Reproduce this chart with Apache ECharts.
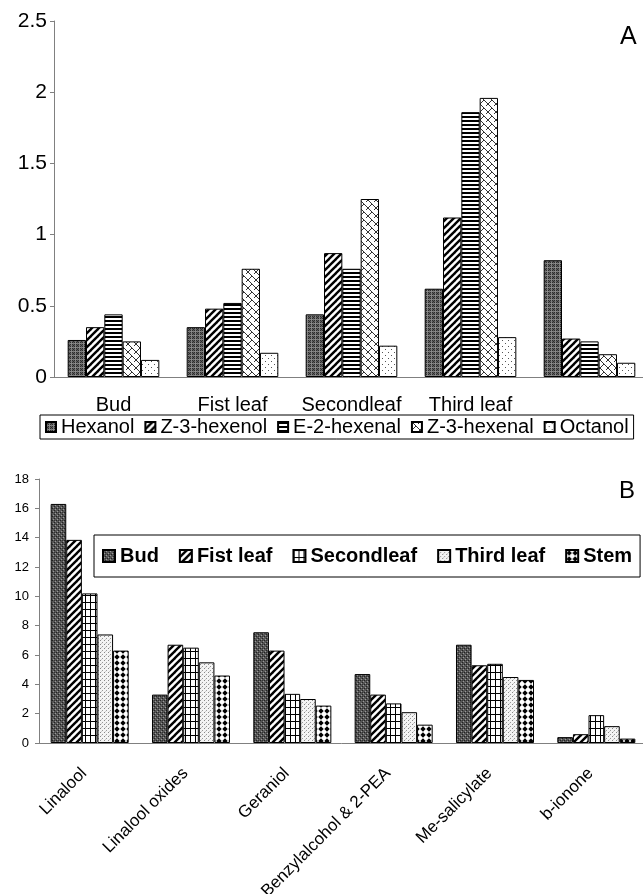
<!DOCTYPE html>
<html>
<head>
<meta charset="utf-8">
<script src="https://cdn.jsdelivr.net/npm/echarts@6/dist/echarts.min.js"></script>
<style>
html,body{margin:0;padding:0;background:#fff;}
#chart{width:643px;height:894px;}
</style>
</head>
<body>
<div id="chart"></div>
<script>
// ---------- Panel A data ----------
const catsA = ['Bud', 'Fist leaf', 'Secondleaf', 'Third leaf', ''];
const hexanol   = [0.26, 0.35, 0.44, 0.62, 0.82];
const z3hexenol = [0.35, 0.48, 0.87, 1.12, 0.27];
const e2hexenal = [0.44, 0.52, 0.76, 1.86, 0.25];
const z3hexenal = [0.25, 0.76, 1.25, 1.96, 0.16];
const octanol   = [0.12, 0.17, 0.22, 0.28, 0.10];
const seriesNamesA = ['Hexanol', 'Z-3-hexenol', 'E-2-hexenal', 'Z-3-hexenal', 'Octanol'];
const yMinA = 0, yMaxA = 2.5, yStepA = 0.5;

// ---------- Panel B data ----------
const catsB = ['Linalool', 'Linalool oxides', 'Geraniol', 'Benzylalcohol & 2-PEA', 'Me-salicylate', 'b-ionone'];
const bud        = [16.3, 3.3, 7.55, 4.7, 6.7, 0.4];
const fistLeaf   = [13.85, 6.7, 6.3, 3.3, 5.3, 0.6];
const secondleaf = [10.2, 6.5, 3.35, 2.7, 5.4, 1.9];
const thirdLeaf  = [7.4, 5.5, 3.0, 2.1, 4.5, 1.15];
const stem       = [6.3, 4.6, 2.55, 1.25, 4.3, 0.3];
const seriesNamesB = ['Bud', 'Fist leaf', 'Secondleaf', 'Third leaf', 'Stem'];
const yMinB = 0, yMaxB = 18, yStepB = 2;

const panelLabels = ['A', 'B'];

// ---------- patterns ----------
function pat(w, h, draw) {
  const c = document.createElement('canvas');
  c.width = w; c.height = h;
  const ctx = c.getContext('2d');
  draw(ctx, w, h);
  return { image: c, repeat: 'repeat' };
}
function px(ctx, x, y, col) { ctx.fillStyle = col; ctx.fillRect(x, y, 1, 1); }

const patPlaid = pat(4, 4, (ctx) => {
  ctx.fillStyle = '#5e5e5e'; ctx.fillRect(0, 0, 4, 4);
  for (let y = 0; y < 4; y++) for (let x = 0; x < 4; x++) if ((x + y) % 2 === 0) px(ctx, x, y, '#2c2c2c');
  ctx.fillStyle = 'rgba(150,150,150,0.7)'; ctx.fillRect(0, 3, 4, 1); ctx.fillRect(3, 0, 1, 4);
});
const patDiag = pat(7, 7, (ctx, w, h) => {
  ctx.fillStyle = '#fff'; ctx.fillRect(0, 0, w, h);
  ctx.strokeStyle = '#000'; ctx.lineWidth = 2.4;
  for (let k = -1; k <= 1; k++) {
    ctx.beginPath(); ctx.moveTo(k * w - 1, h + 1); ctx.lineTo(k * w + w + 1, -1); ctx.stroke();
  }
});
const patHoriz = pat(1, 4, (ctx) => {
  ctx.fillStyle = '#fff'; ctx.fillRect(0, 0, 1, 4);
  ctx.fillStyle = '#000'; ctx.fillRect(0, 0, 1, 2);
});
const patWeave = pat(8, 8, (ctx) => {
  ctx.fillStyle = '#fff'; ctx.fillRect(0, 0, 8, 8);
  ctx.strokeStyle = '#333'; ctx.lineWidth = 1;
  ctx.beginPath(); ctx.moveTo(0, 0); ctx.lineTo(8, 8); ctx.stroke();
  ctx.beginPath(); ctx.moveTo(0, 8); ctx.lineTo(4, 4); ctx.stroke();
  ctx.beginPath(); ctx.moveTo(8, 0); ctx.lineTo(6, 2); ctx.stroke();
});
const patDots = pat(6, 6, (ctx) => {
  ctx.fillStyle = '#fff'; ctx.fillRect(0, 0, 6, 6);
  px(ctx, 1, 1, '#555'); px(ctx, 4, 4, '#555');
});
const patStipple = pat(4, 4, (ctx) => {
  ctx.fillStyle = '#555'; ctx.fillRect(0, 0, 4, 4);
  px(ctx, 0, 0, '#222'); px(ctx, 2, 2, '#222'); px(ctx, 1, 3, '#999'); px(ctx, 3, 1, '#999'); px(ctx, 2, 0, '#333');
});
const patGrid = pat(5, 7, (ctx) => {
  ctx.fillStyle = '#fff'; ctx.fillRect(0, 0, 5, 7);
  ctx.fillStyle = '#000'; ctx.fillRect(0, 0, 5, 1); ctx.fillRect(0, 0, 1, 7);
});
const patLight = pat(4, 4, (ctx) => {
  ctx.fillStyle = '#f4f4f4'; ctx.fillRect(0, 0, 4, 4);
  px(ctx, 0, 0, '#888'); px(ctx, 2, 2, '#999'); px(ctx, 1, 3, '#ccc');
});
const patDiamond = pat(6, 6, (ctx) => {
  ctx.fillStyle = '#fff'; ctx.fillRect(0, 0, 6, 6);
  ctx.fillStyle = '#000';
  ctx.beginPath(); ctx.moveTo(3, 0.3); ctx.lineTo(5.7, 3); ctx.lineTo(3, 5.7); ctx.lineTo(0.3, 3); ctx.closePath(); ctx.fill();
});

const FONT = "'Liberation Sans', Arial, sans-serif";
const AXC = '#808080';

const patternsA = [patPlaid, patDiag, patHoriz, patWeave, patDots];
const patternsB = [patStipple, patDiag, patGrid, patLight, patDiamond];
const dataA = [hexanol, z3hexenol, e2hexenal, z3hexenal, octanol];
const dataB = [bud, fistLeaf, secondleaf, thirdLeaf, stem];

const series = [];
seriesNamesA.forEach((n, i) => series.push({
  name: n, type: 'bar', xAxisIndex: 0, yAxisIndex: 0, data: dataA[i],
  barGap: '0%', barCategoryGap: '23%',
  itemStyle: { color: patternsA[i], borderColor: '#000', borderWidth: 1 },
  emphasis: { disabled: true }
}));
seriesNamesB.forEach((n, i) => series.push({
  name: n, type: 'bar', xAxisIndex: 1, yAxisIndex: 1, data: dataB[i],
  barGap: '0%', barCategoryGap: '23%',
  itemStyle: { color: patternsB[i], borderColor: '#000', borderWidth: 1 },
  emphasis: { disabled: true }
}));

const chart = echarts.init(document.getElementById('chart'), null, { renderer: 'canvas' });
chart.setOption({
  animation: false,
  backgroundColor: '#fff',
  textStyle: { fontFamily: FONT },
  grid: [
    { left: 54, right: -6, top: 21, height: 356, containLabel: false, outerBoundsMode: 'none' },
    { left: 39, right: -4, top: 479, height: 264, containLabel: false, outerBoundsMode: 'none' }
  ],
  xAxis: [
    { type: 'category', gridIndex: 0, data: catsA,
      axisLine: { lineStyle: { color: AXC } },
      axisTick: { length: 5, lineStyle: { color: AXC } },
      axisLabel: { color: '#000', fontSize: 20, fontFamily: FONT, margin: 18, interval: 0 } },
    { type: 'category', gridIndex: 1, data: catsB,
      axisLine: { lineStyle: { color: AXC } },
      axisTick: { length: 5, lineStyle: { color: AXC } },
      axisLabel: { color: '#000', fontSize: 17, fontFamily: FONT, margin: 22, rotate: 45, interval: 0,
        padding: [0, 8, 0, 0] } }
  ],
  yAxis: [
    { type: 'value', gridIndex: 0, min: yMinA, max: yMaxA, interval: yStepA,
      splitLine: { show: false },
      axisLine: { show: true, lineStyle: { color: AXC } },
      axisTick: { show: true, length: 4, lineStyle: { color: AXC } },
      axisLabel: { color: '#000', fontSize: 21, fontFamily: FONT, margin: 7 } },
    { type: 'value', gridIndex: 1, min: yMinB, max: yMaxB, interval: yStepB,
      splitLine: { show: false },
      axisLine: { show: true, lineStyle: { color: AXC } },
      axisTick: { show: true, length: 4, lineStyle: { color: AXC } },
      axisLabel: { color: '#000', fontSize: 13, fontFamily: FONT, margin: 10 } }
  ],
  legend: [
    { data: seriesNamesA, left: 40, top: 415, orient: 'horizontal', icon: 'rect',
      borderColor: '#000', borderWidth: 1, padding: [2, 5],
      itemWidth: 10, itemHeight: 10, itemGap: 10, itemTextGap: 3,
      textStyle: { fontSize: 20, fontFamily: FONT, color: '#000' },
      selectedMode: false },
    { data: seriesNamesB, left: 94, top: 535, orient: 'horizontal', icon: 'rect',
      borderColor: '#000', borderWidth: 1, padding: [11, 8],
      itemWidth: 12, itemHeight: 12, itemGap: 20, itemTextGap: 6,
      textStyle: { fontSize: 20, fontWeight: 'bold', fontFamily: FONT, color: '#000' },
      selectedMode: false }
  ],
  graphic: [
    { type: 'text', left: 620, top: 25, style: { text: panelLabels[0], font: '25px ' + FONT, fill: '#000' } },
    { type: 'text', left: 619, top: 479, style: { text: panelLabels[1], font: '24px ' + FONT, fill: '#000' } }
  ],
  series: series
});
</script>
</body>
</html>
